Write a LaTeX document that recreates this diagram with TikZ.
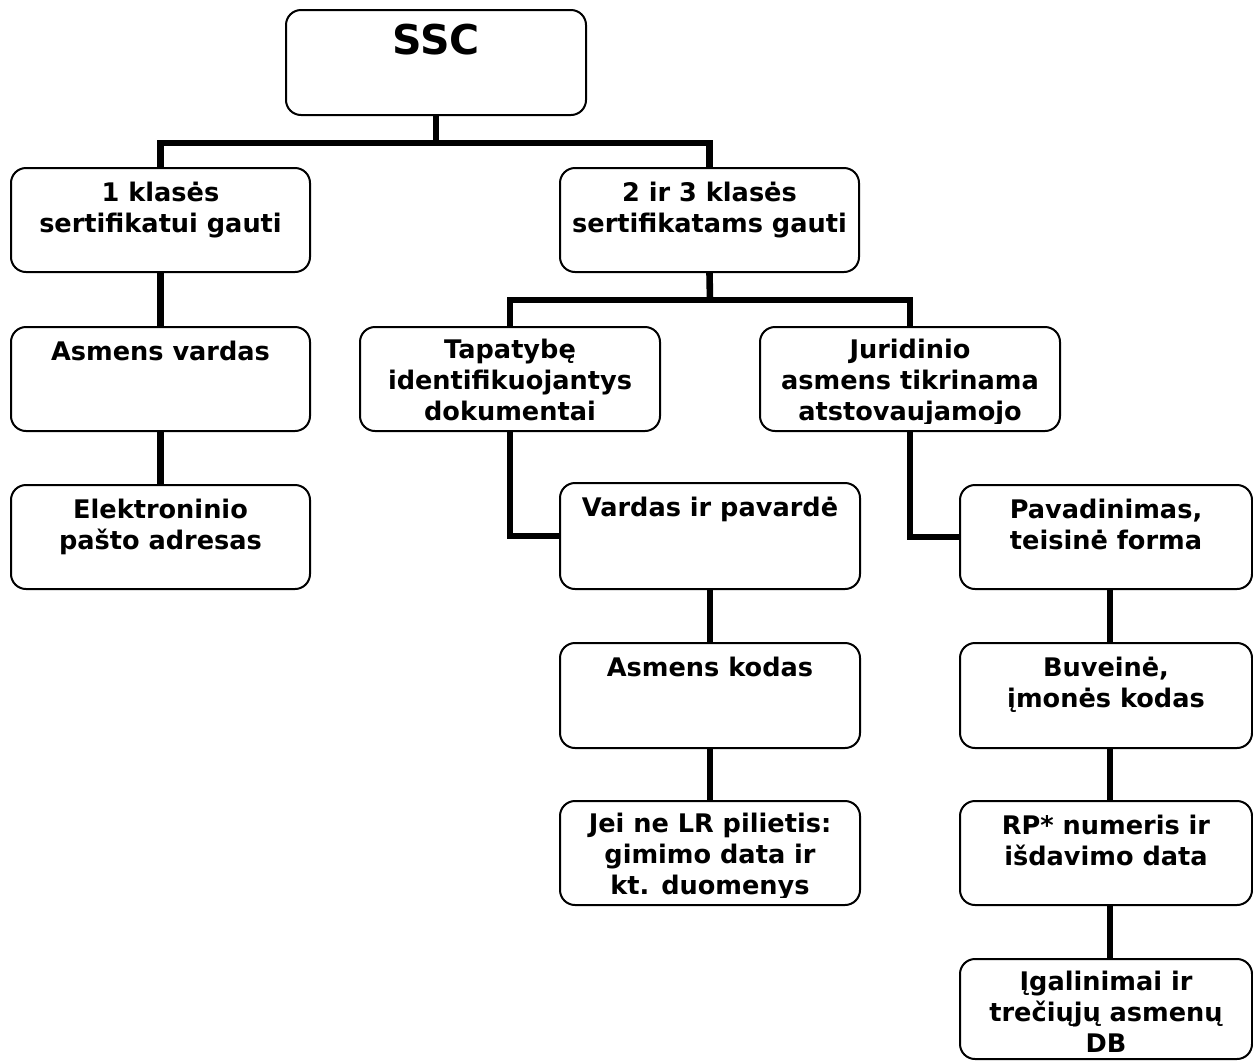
\documentclass[tikz,border=0pt]{standalone}
\usepackage{fontspec}
\setmainfont{DejaVu Sans}
\begin{document}
\begin{tikzpicture}[x=0.5pt,y=-0.5pt,
  boxshape/.style={draw=black, line width=1pt, rounded corners=7.5pt,
    fill=white, inner sep=0pt},
  boxtext/.style={inner sep=0pt, align=center,
    font=\bfseries\fontsize{12.8}{15.5}\selectfont},
  titletext/.style={inner sep=0pt, align=center,
    font=\bfseries\fontsize{20.5}{22}\selectfont},
  conn/.style={draw=black, line width=3.3pt, line join=miter}]

\useasboundingbox (0,0) rectangle (1253,1061);

% #1 name, #2-#5 left/top/right/bottom (px), #6 text style,
% #7 gap between the box top and the top of the first line's strut, #8 text
\newcommand\chartbox[8]{%
  \node[boxshape, minimum width={(#4-#2)*0.5pt}, minimum height={(#5-#3)*0.5pt}]
    (#1) at ({(#2+#4)/2},{(#3+#5)/2}) {};
  \begin{scope}
    \clip ([shift={(2pt,4.5pt)}]#1.south west) rectangle ([shift={(-2pt,-1pt)}]#1.north east);
    \node[#6, anchor=north] (#1-t) at ([yshift=-#7]#1.north) {\strut#8};
  \end{scope}}

% top
\chartbox{ssc}{286}{10}{586}{115}{titletext}{7.1pt}{SSC}
% first level
\chartbox{k1}{11}{168}{310}{272}{boxtext}{6.15pt}{1 klasės\\ sertifikatui gauti}
\chartbox{k23}{560}{168}{859}{272}{boxtext}{6.15pt}{2 ir 3 klasės\\ sertifikatams gauti}
% left column
\chartbox{av}{11}{327}{310}{431}{boxtext}{6.15pt}{Asmens vardas}
\chartbox{el}{11}{485}{310}{589}{boxtext}{6.15pt}{Elektroninio\\ pašto adresas}
% second level
\chartbox{tap}{360}{327}{660}{431}{boxtext}{5.15pt}{Tapatybę\\ identifikuojantys\\ dokumentai}
\chartbox{jur}{760}{327}{1060}{431}{boxtext}{5.15pt}{Juridinio\\ asmens tikrinama\\ atstovaujamojo}
% natural person column
\chartbox{vp}{560}{483}{860}{589}{boxtext}{6.15pt}{Vardas ir pavardė}
\chartbox{ak}{560}{643}{860}{748}{boxtext}{6.15pt}{Asmens kodas}
\chartbox{jei}{560}{801}{860}{905}{boxtext}{5.15pt}{Jei ne LR pilietis:\\ gimimo data ir\\ kt. duomenys}
% legal person column
\chartbox{pav}{960}{485}{1252}{589}{boxtext}{6.15pt}{Pavadinimas,\\ teisinė forma}
\chartbox{buv}{960}{643}{1252}{748}{boxtext}{6.15pt}{Buveinė,\\ įmonės kodas}
\chartbox{rp}{960}{801}{1252}{905}{boxtext}{6.15pt}{RP* numeris ir\\ išdavimo data}
\chartbox{ig}{960}{959}{1252}{1059}{boxtext}{5.15pt}{Įgalinimai ir\\ trečiųjų asmenų\\ DB}

% connectors
\coordinate (j1) at (436,143);
\coordinate (j2) at (710,300);
\draw[conn] (ssc.south) -- (j1);
\draw[conn] (k1.north) |- (j1) -| (k23.north);
\draw[conn] (k1.south) -- (av.north);
\draw[conn] (av.south) -- (el.north);
\draw[conn] (k23.south) -- (j2);
\draw[conn] (tap.north) |- (j2) -| (jur.north);
\draw[conn] (tap.south) |- (vp.west);
\draw[conn] (vp.south) -- (ak.north);
\draw[conn] (ak.south) -- (jei.north);
\draw[conn] (jur.south) |- (pav.west);
\draw[conn] ([xshift=2pt]pav.south) -- ([xshift=2pt]buv.north);
\draw[conn] ([xshift=2pt]buv.south) -- ([xshift=2pt]rp.north);
\draw[conn] ([xshift=2pt]rp.south) -- ([xshift=2pt]ig.north);
\end{tikzpicture}
\end{document}
